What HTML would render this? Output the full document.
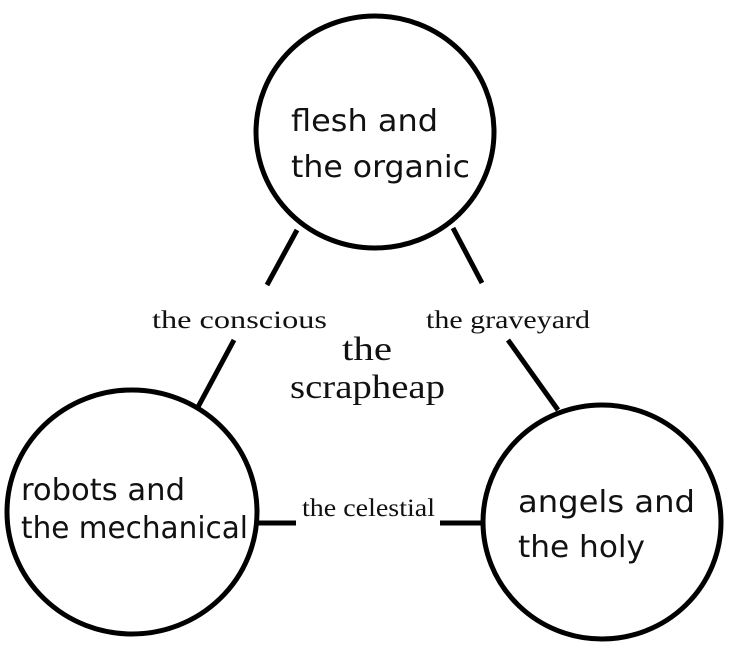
<!DOCTYPE html>
<html><head><meta charset="utf-8"><style>
body{margin:0;background:#fff;width:736px;height:648px;overflow:hidden}
</style></head><body>
<svg width="736" height="648" viewBox="0 0 736 648" xmlns="http://www.w3.org/2000/svg">
<g fill="none" stroke="#000" stroke-width="5">
<ellipse cx="375" cy="132" rx="119" ry="116"/>
<ellipse cx="132" cy="512" rx="125" ry="122"/>
<ellipse cx="602" cy="522" rx="119" ry="117"/>
<line x1="297" y1="230" x2="267" y2="285"/>
<line x1="234" y1="340" x2="198" y2="407"/>
<line x1="453" y1="228" x2="482" y2="283"/>
<line x1="508" y1="340" x2="558" y2="410"/>
<line x1="257" y1="523" x2="296" y2="523"/>
<line x1="440" y1="523" x2="484" y2="523"/>
</g>
<g font-family="DejaVu Sans, sans-serif" font-size="30" fill="#111">
<text x="291" y="131" textLength="147" lengthAdjust="spacingAndGlyphs">flesh and</text>
<text x="291" y="177" textLength="179" lengthAdjust="spacingAndGlyphs">the organic</text>
<text x="21" y="500" textLength="164" lengthAdjust="spacingAndGlyphs">robots and</text>
<text x="21" y="538" textLength="227" lengthAdjust="spacingAndGlyphs">the mechanical</text>
<text x="518" y="512" textLength="177" lengthAdjust="spacingAndGlyphs">angels and</text>
<text x="518" y="557" textLength="127" lengthAdjust="spacingAndGlyphs">the holy</text>
</g>
<g font-family="Liberation Serif, serif" fill="#111">
<text x="152" y="328" font-size="25" textLength="175" lengthAdjust="spacingAndGlyphs">the conscious</text>
<text x="426" y="328" font-size="25" textLength="164" lengthAdjust="spacingAndGlyphs">the graveyard</text>
<text x="302" y="516" font-size="25" textLength="133" lengthAdjust="spacingAndGlyphs">the celestial</text>
<text x="342" y="360" font-size="34" textLength="50" lengthAdjust="spacingAndGlyphs">the</text>
<text x="290" y="398" font-size="34" textLength="155" lengthAdjust="spacingAndGlyphs">scrapheap</text>
</g>
</svg>
</body></html>
